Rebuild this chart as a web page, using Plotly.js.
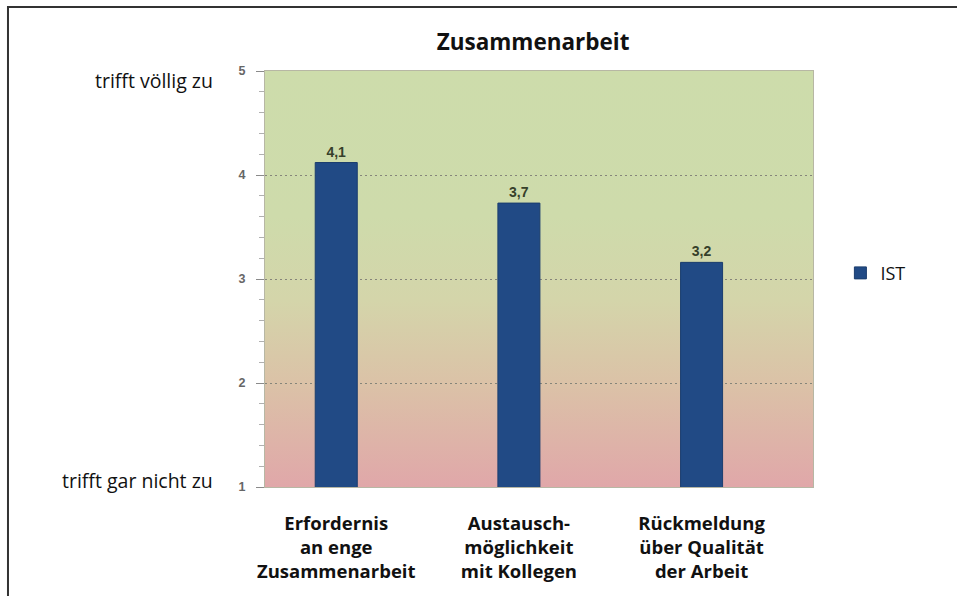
<!DOCTYPE html>
<html>
<head>
<meta charset="utf-8">
<script src="https://cdn.plot.ly/plotly-3.0.1.min.js"></script>
<style>html,body{margin:0;padding:0;background:#fff;}#chart{width:957px;height:596px;}</style>
</head>
<body>
<div id="chart"></div>
<script>
// ---- data ----
const categories = [
  "Erfordernis<br>an enge<br>Zusammenarbeit",
  "Austausch-<br>möglichkeit<br>mit Kollegen",
  "Rückmeldung<br>über Qualität<br>der Arbeit"
];
const seriesName = "IST";
const istValues = [4.12, 3.73, 3.16];
const istLabels = ["4,1", "3,7", "3,2"];
const yTickVals = [1, 2, 3, 4, 5];
const yTickText = ["1", "2", "3", "4", "5"];
const scaleTopLabel = "trifft völlig zu";
const scaleBottomLabel = "trifft gar nicht zu";
const chartTitle = "Zusammenarbeit";

// background gradient (green top -> pink bottom)
const gradSvg = '<svg xmlns="http://www.w3.org/2000/svg" width="100" height="100" viewBox="0 0 100 100" preserveAspectRatio="none">' +
  '<defs><linearGradient id="g" x1="0" y1="0" x2="0" y2="1">' +
  '<stop offset="0" stop-color="#cddcab"/>' +
  '<stop offset="0.35" stop-color="#cedbab"/>' +
  '<stop offset="0.55" stop-color="#d4d5aa"/>' +
  '<stop offset="0.75" stop-color="#dbc2a7"/>' +
  '<stop offset="1" stop-color="#e0a7a9"/>' +
  '</linearGradient></defs><rect x="0" y="0" width="100" height="100" fill="url(#g)"/></svg>';

const traces = [{
  type: "bar",
  x: categories,
  y: istValues,
  name: seriesName,
  width: 0.23,
  marker: { color: "#214a85", line: { color: "#1b3d6e", width: 1 } },
  text: istLabels,
  texttemplate: "%{text}",
  textposition: "outside",
  cliponaxis: false,
  textfont: { family: "Liberation Sans, Arial, sans-serif", size: 14, color: "#36402a", weight: "bold" },
  hoverinfo: "skip"
}];

const layout = {
  width: 957, height: 596,
  margin: { l: 265, r: 144, t: 71, b: 109 },
  paper_bgcolor: "#ffffff",
  plot_bgcolor: "rgba(0,0,0,0)",
  separators: ",.",
  title: {
    text: "<b>" + chartTitle + "</b>",
    font: { family: "Open Sans, sans-serif", size: 22.5, color: "#111111" },
    x: 0.557, xanchor: "center", y: 0.93, yanchor: "middle"
  },
  showlegend: true,
  legend: {
    x: 1.05, xanchor: "left", y: 0.514, yanchor: "middle",
    font: { family: "Open Sans, sans-serif", size: 18, color: "#111111" },
    bgcolor: "rgba(0,0,0,0)"
  },
  xaxis: {
    type: "category",
    range: [-0.39, 2.61],
    showgrid: false,
    ticks: "",
    tickfont: { family: "Open Sans, sans-serif", size: 18.5, color: "#111111", weight: "bold" },
    ticklabelstandoff: 20,
    showline: true, linecolor: "#b7b7a4", linewidth: 1, mirror: true,
    fixedrange: true
  },
  yaxis: {
    range: [1, 5],
    tickmode: "array",
    tickvals: yTickVals,
    ticktext: yTickText,
    ticks: "outside", ticklen: 8, tickcolor: "#8a8a8a", tickwidth: 1,
    tickfont: { family: "Liberation Sans, Arial, sans-serif", size: 12.5, color: "#666666", weight: "bold" },
    ticklabelstandoff: 8,
    minor: { dtick: 0.2, ticks: "outside", ticklen: 5, tickcolor: "#b0b0b0", showgrid: false },
    showgrid: true, gridcolor: "#85857a", griddash: "2px,3px", gridwidth: 1,
    zeroline: false,
    showline: true, linecolor: "#b7b7a4", linewidth: 1, mirror: true,
    fixedrange: true
  },
  images: [{
    source: "data:image/svg+xml;utf8," + encodeURIComponent(gradSvg),
    xref: "paper", yref: "paper",
    x: 0, y: 1, sizex: 1, sizey: 1,
    xanchor: "left", yanchor: "top",
    sizing: "stretch", layer: "below"
  }],
  shapes: [{
    type: "rect", xref: "paper", yref: "paper",
    x0: -0.469, x1: 1.4, y0: -0.4, y1: 1.1538,
    line: { color: "#333333", width: 2 }, fillcolor: "rgba(0,0,0,0)", layer: "below"
  }],
  annotations: [
    { text: scaleTopLabel, xref: "paper", yref: "paper", x: -0.0912, y: 0.978,
      xanchor: "right", yanchor: "middle", showarrow: false,
      font: { family: "Open Sans, sans-serif", size: 19.5, color: "#111111" } },
    { text: scaleBottomLabel, xref: "paper", yref: "paper", x: -0.0912, y: 0.0168,
      xanchor: "right", yanchor: "middle", showarrow: false,
      font: { family: "Open Sans, sans-serif", size: 19.5, color: "#111111" } }
  ],
  bargap: 0.5
};

Plotly.newPlot("chart", traces, layout, { displayModeBar: false, staticPlot: true });
</script>
</body>
</html>
